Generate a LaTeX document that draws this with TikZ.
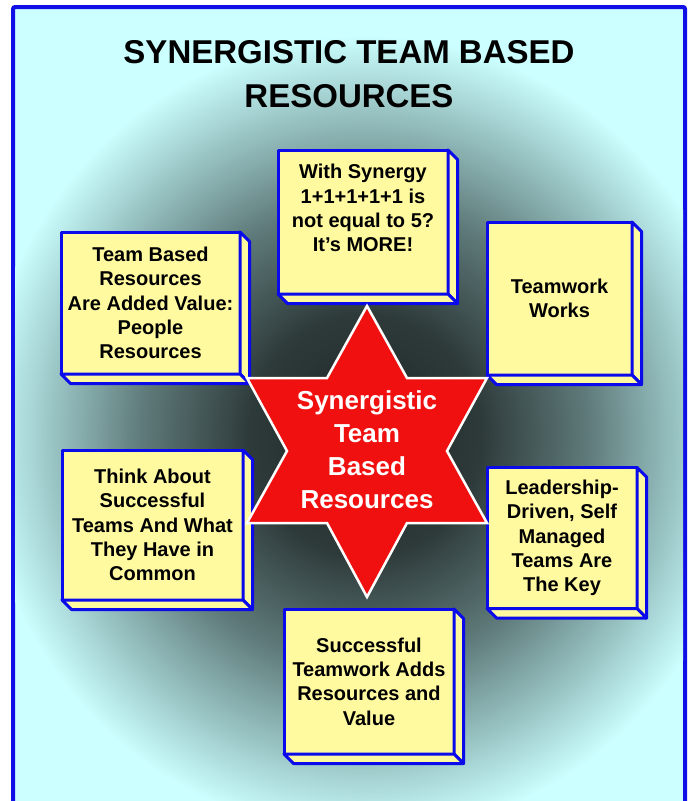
\documentclass[tikz,border=0pt]{standalone}
\usepackage{fontspec}
\setmainfont{Liberation Sans}
\definecolor{frameblue}{RGB}{16,16,230}
\definecolor{bgcyan}{RGB}{204,255,255}
\definecolor{glowA}{RGB}{28,36,36}
\definecolor{glowB}{RGB}{46,58,58}
\definecolor{glowC}{RGB}{95,122,122}
\definecolor{glowD}{RGB}{150,192,192}
\definecolor{boxyellow}{RGB}{255,250,160}
\definecolor{boxblue}{RGB}{10,10,235}
\definecolor{starred}{RGB}{240,16,16}
\pgfdeclareradialshading{bgglow}{\pgfpoint{0bp}{0bp}}{color(0bp)=(glowA); color(7.5bp)=(glowB); color(14.5bp)=(glowC); color(20bp)=(glowD); color(25bp)=(bgcyan); color(50bp)=(bgcyan)}
\newcommand{\cubesides}[1]{%
  \draw[cubeside] (#1.north east) -- ([shift={(9.5,9.5)}]#1.north east) -- ([shift={(9.5,9.5)}]#1.south east) -- (#1.south east) -- cycle;
  \draw[cubeside] (#1.south west) -- ([shift={(9.5,9.5)}]#1.south west) -- ([shift={(9.5,9.5)}]#1.south east) -- (#1.south east) -- cycle;
}
\begin{document}
\begin{tikzpicture}[x=1pt,y=-1pt,
  cubeface/.style={draw=boxblue, fill=boxyellow, line width=3pt, line join=round,
    inner sep=0pt, outer sep=0pt, align=center, text=black,
    font=\bfseries\fontsize{20}{24.3}\selectfont},
  cubeside/.style={draw=boxblue, fill=boxyellow, line width=3pt, line join=round},
  cubetext/.style={align=center, text=black, inner sep=0pt,
    font=\bfseries\fontsize{20}{24.3}\selectfont},
  titletext/.style={align=center, text=black, inner sep=0pt,
    font=\bfseries\fontsize{33}{44}\selectfont},
  startext/.style={align=center, text=white, inner sep=0pt,
    font=\bfseries\fontsize{26}{33}\selectfont}]
\useasboundingbox (0,0) rectangle (693,801);
\fill[white] (0,0) rectangle (693,801);
% frame and glow
\draw[frameblue, line width=4pt, fill=bgcyan, rounded corners=2pt] (13,7) rectangle (685,806);
\begin{scope}
  \clip (15,9) rectangle (683,804);
  \shade[shading=bgglow] (365,435) ellipse [x radius=385, y radius=400];
\end{scope}
% title
\node[titletext] (title) at (349,74.5) {SYNERGISTIC TEAM BASED\\RESOURCES};
% cubes
\node[cubeface, minimum width=170pt, minimum height=144pt] (b1) at (363,222) {};
\cubesides{b1}
\node[cubetext] (b1t) at (363,208) {With Synergy\\1+1+1+1+1 is\\not equal to 5?\\It's MORE!};
\node[cubeface, minimum width=179pt, minimum height=142pt] (b2) at (150.5,303) {Team Based\\Resources\\Are Added Value:\\People\\Resources};
\cubesides{b2}
\node[cubeface, minimum width=145pt, minimum height=153pt] (b3) at (559.5,298.5) {Teamwork\\Works};
\cubesides{b3}
\node[cubeface, minimum width=181pt, minimum height=150pt] (b4) at (152.5,525) {Think About\\Successful\\Teams And What\\They Have in\\Common};
\cubesides{b4}
\node[cubeface, minimum width=150pt, minimum height=141pt] (b5) at (562,538) {Leadership-\\Driven, Self\\Managed\\Teams Are\\The Key};
\cubesides{b5}
\node[cubeface, minimum width=170pt, minimum height=145pt] (b6) at (369,681.5) {Successful\\Teamwork Adds\\Resources and\\Value};
\cubesides{b6}
% star
\filldraw[fill=starred, draw=white, line width=2.5pt, line join=miter]
  (367,306) -- (407,378) -- (487,378) -- (447,451) -- (487,523) -- (407,523)
  -- (367,597) -- (327,523) -- (247,523) -- (287,451) -- (247,378) -- (327,378) -- cycle;
\node[startext] (core) at (367,450) {Synergistic\\Team\\Based\\Resources};
\end{tikzpicture}
\end{document}
